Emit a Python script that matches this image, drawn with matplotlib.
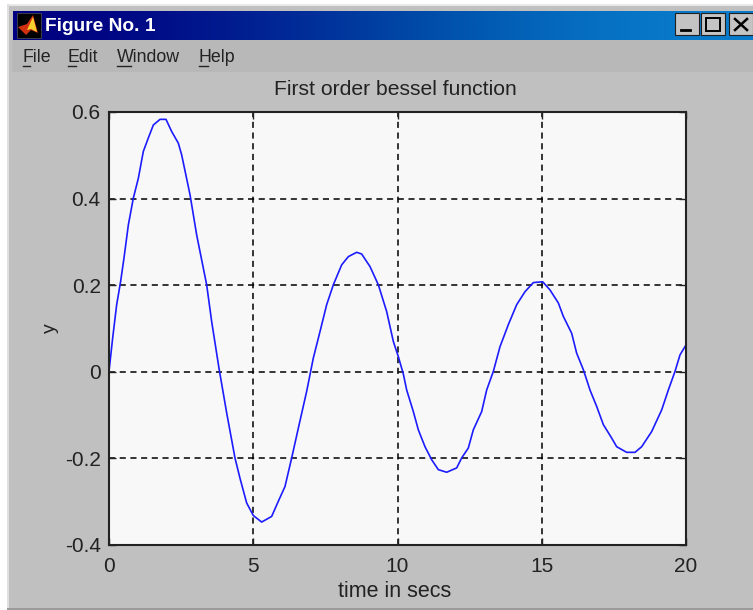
import matplotlib
matplotlib.use("Agg")
import matplotlib.pyplot as plt
import numpy as np
from matplotlib.patches import Polygon, Rectangle

plt.rcParams['font.family'] = ['Liberation Sans', 'DejaVu Sans']

# values
time_secs = [0, 0.127, 0.266, 0.404, 0.52, 0.67, 0.843, 1.017, 1.19, 1.363, 1.537, 1.768, 1.976,
             2.172, 2.403, 2.519, 2.808, 3.039, 3.385, 3.559, 3.813, 4.079, 4.367, 4.541, 4.772,
             5.003, 5.292, 5.638, 5.869, 6.1, 6.332, 6.563, 6.852, 7.083, 7.314, 7.545, 7.776,
             8.065, 8.296, 8.585, 8.758, 9.047, 9.336, 9.625, 9.856, 10.029, 10.202, 10.318,
             10.549, 10.722, 10.953, 11.184, 11.415, 11.705, 12.051, 12.224, 12.455, 12.628,
             12.917, 13.091, 13.322, 13.553, 13.842, 14.131, 14.419, 14.708, 15.032, 15.286,
             15.575, 15.748, 16.037, 16.21, 16.441, 16.672, 16.904, 17.135, 17.423, 17.597,
             17.943, 18.232, 18.464, 18.81, 19.157, 19.388, 19.619, 19.792, 20.0]
y_values = [0.001, 0.078, 0.155, 0.209, 0.263, 0.339, 0.401, 0.447, 0.509, 0.54, 0.57, 0.583, 0.583,
            0.555, 0.528, 0.501, 0.409, 0.316, 0.201, 0.116, 0.008, -0.095, -0.199, -0.246, -0.303,
            -0.332, -0.347, -0.334, -0.299, -0.265, -0.199, -0.13, -0.045, 0.032, 0.093, 0.155,
            0.201, 0.247, 0.266, 0.276, 0.272, 0.243, 0.201, 0.139, 0.07, 0.035, -0.005, -0.042,
            -0.092, -0.134, -0.173, -0.203, -0.226, -0.232, -0.222, -0.199, -0.176, -0.134,
            -0.092, -0.042, 0.001, 0.058, 0.109, 0.155, 0.185, 0.206, 0.208, 0.189,
            0.159, 0.128, 0.089, 0.043, 0.005, -0.042, -0.08, -0.122, -0.153, -0.173,
            -0.186, -0.186, -0.173, -0.138, -0.088, -0.042, 0.001, 0.039, 0.062]
x_ticks = [0, 5, 10, 15, 20]
y_ticks = [-0.4, -0.2, 0, 0.2, 0.4, 0.6]
y_tick_labels = ["-0.4", "-0.2", "0", "0.2", "0.4", "0.6"]
menu_items = ["File", "Edit", "Window", "Help"]

W, H = 753, 610
fig = plt.figure(figsize=(W / 100, H / 100), dpi=100, facecolor="#ffffff")

# window chrome, drawn in pixel coordinates
win = fig.add_axes([0, 0, 1, 1], zorder=0)
win.set_xlim(0, W)
win.set_ylim(H, 0)
win.axis("off")
win.add_patch(Rectangle((7, 4), W - 7, H - 4, fc="#c0c0c0", ec="none"))
win.add_patch(Rectangle((7, 4), W - 7, 1.5, fc="#e8e8e8", ec="none"))
win.add_patch(Rectangle((7, 4), 2, H - 4, fc="#e0e0e0", ec="none"))
win.add_patch(Rectangle((7, H - 2), W - 7, 2, fc="#9a9a9a", ec="none"))
win.add_patch(Rectangle((12, 40), W - 12, 32, fc="#b8b8b8", ec="none"))
gradient = np.array([[0, 0, 128], [0, 40, 150], [0, 90, 175], [10, 125, 205]]) / 255
win.imshow(gradient[np.newaxis, :, :], extent=(13, W, 40, 11), aspect="auto",
           interpolation="bicubic", zorder=1)
win.set_xlim(0, W)
win.set_ylim(H, 0)

# matlab icon
win.add_patch(Rectangle((17, 13), 24, 25, fc="#000000", ec="#555555", lw=0.5, zorder=2))
win.add_patch(Polygon([(18, 27), (27, 24), (33, 15), (38, 33), (31, 30), (26, 35)],
                      fc="#d03010", ec="none", zorder=3))
win.add_patch(Polygon([(27, 30), (33, 17), (37, 32), (31, 29)], fc="#f8d030", ec="none", zorder=4))

win.text(45, 31, "Figure No. 1", color="white", fontsize=13.8, fontweight="bold",
         va="baseline", ha="left", zorder=3)

# menu with underlined first letters
menu_x = [23, 68, 117, 199]
underline_w = [7, 8, 14, 9]
for label, mx, uw in zip(menu_items, menu_x, underline_w):
    win.text(mx, 62, label, fontsize=12.8, color="#222222", va="baseline", ha="left", zorder=3)
    win.plot([mx, mx + uw], [65.5, 65.5], color="#222222", lw=1, zorder=3)

# window buttons
for bx in (675, 701, 729):
    win.add_patch(Rectangle((bx, 13), 24, 22, fc="#c4c4c4", ec="#202020", lw=0.8, zorder=2))
win.plot([681, 690], [30, 30], color="black", lw=2, zorder=3)
win.add_patch(Rectangle((706, 18), 14, 13, fc="none", ec="black", lw=1.4, zorder=3))
win.plot([735, 747], [19, 30], color="black", lw=1.8, zorder=3)
win.plot([735, 747], [30, 19], color="black", lw=1.8, zorder=3)

# plot area
ax = fig.add_axes([109 / W, 1 - 545 / H, (686 - 109) / W, (545 - 112) / H], zorder=1)
ax.set_facecolor("#f8f8f8")
ax.plot(time_secs, y_values, color="#1c1cff", lw=1.2)
ax.set_xlim(0, 20)
ax.set_ylim(-0.4, 0.6)
ax.set_xticks(x_ticks)
ax.set_yticks(y_ticks)
ax.set_yticklabels(y_tick_labels)
ax.grid(True, color="black", linestyle=(0, (4, 3)), lw=1.1)
ax.tick_params(direction="in", top=True, right=True, length=5, width=1, labelsize=15,
               colors="#222222")
ax.tick_params(axis="x", pad=8.5)
ax.tick_params(axis="y", pad=6)
for spine in ax.spines.values():
    spine.set_linewidth(1.5)
    spine.set_color("#222222")
ax.set_title("First order bessel function", fontsize=15.2, color="#222222", pad=12, x=0.4957)
ax.set_xlabel("time in secs", fontsize=15.5, color="#222222", labelpad=4, x=0.495)
ax.set_ylabel("y", fontsize=14, color="#222222", labelpad=4)

fig.savefig("out.png", dpi=100)
